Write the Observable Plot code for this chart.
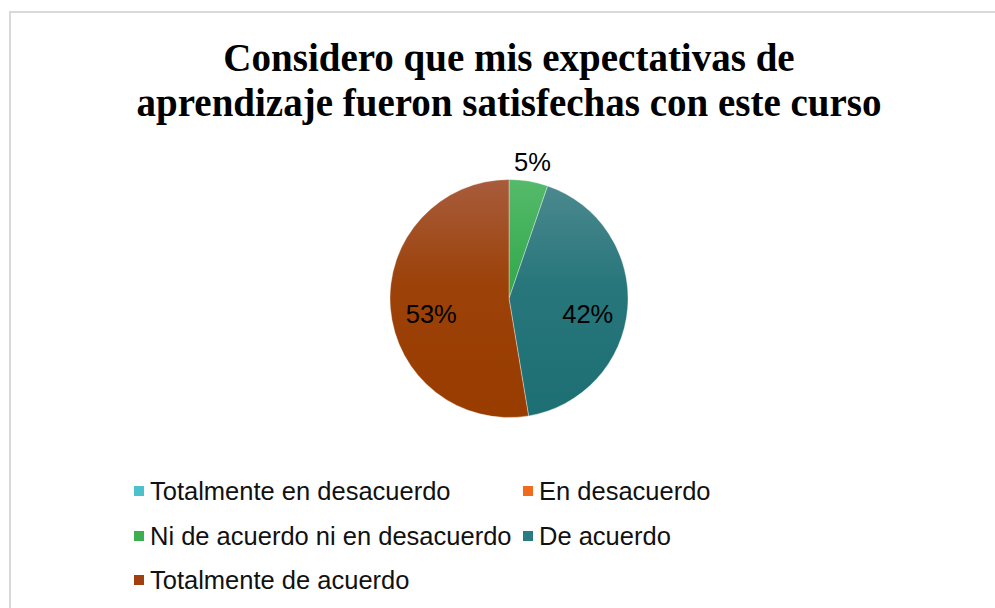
<!DOCTYPE html>
<html>
<head>
<meta charset="utf-8">
<script src="https://cdn.jsdelivr.net/npm/d3@7"></script>
<script src="https://cdn.jsdelivr.net/npm/@observablehq/plot@0.6"></script>
<style>
  html, body { margin: 0; padding: 0; background: #fff; }
  #root { position: relative; width: 995px; height: 608px; overflow: hidden; background: #fff; }
  #frame { position: absolute; left: 9px; top: 11px; width: 1000px; height: 620px;
           border-top: 2px solid #d9d9d9; border-left: 2px solid #d9d9d9; box-sizing: border-box; }
  #title { position: absolute; left: 21px; width: 976px; top: 35px; text-align: center;
           font-family: "Liberation Serif", "Times New Roman", serif; font-weight: bold;
           font-size: 39px; line-height: 45px; color: #000; word-spacing: 0px; }
  #chart { position: absolute; left: 0; top: 140px; }
  #legend { position: absolute; left: 134px; top: 469px; display: grid;
            grid-template-columns: 389px auto; grid-auto-rows: 44.5px;
            font-family: "Liberation Sans", Arial, sans-serif; font-size: 25.5px; color: #111; }
  #legend .item { display: flex; align-items: center; white-space: nowrap; line-height: 44px; }
  #legend .sw { width: 10px; height: 10px; margin-right: 6px; flex: none; position: relative; top: 0px; }
</style>
</head>
<body>
<div id="root">
  <div id="frame"></div>
  <div id="title">Considero que mis expectativas de<br>aprendizaje fueron satisfechas con este curso</div>
  <div id="chart"></div>
  <div id="legend"></div>
</div>
<script>
// ---- data ----
const categories = [
  "Totalmente en desacuerdo",
  "En desacuerdo",
  "Ni de acuerdo ni en desacuerdo",
  "De acuerdo",
  "Totalmente de acuerdo"
];
const counts = [0, 0, 1, 8, 10];
const swatchColors = ["#4BC1CC", "#F26B1D", "#3DAF50", "#2B7B80", "#A0400E"];
const gradientTop = ["#6FD0D8", "#F68A45", "#55BA6B", "#4D8A8F", "#A85C3C"];
const gradientMid = ["#3FB8C4", "#EC6416", "#33A94D", "#27767B", "#9C4108"];
const gradientBottom = ["#35B3C0", "#E85E0E", "#2CA548", "#1C6F73", "#983C00"];

const data = categories.map((category, i) => ({category, count: counts[i], i}));
const total = d3.sum(counts);
const arcs = d3.pie().sort(null).value(d => d.count)(data).filter(a => a.data.count > 0);

const labels = arcs.map(a => {
  const mid = (a.startAngle + a.endAngle) / 2;
  const share = a.data.count / total;
  const inside = share >= 0.1;
  const r = inside ? 0.66 : 1.17;
  return {x: Math.sin(mid) * r, y: -Math.cos(mid) * r, text: d3.format(".0%")(share), inside};
});

function pieMark(index, scales, values, dimensions) {
  const cx = scales.x(0), cy = scales.y(0);
  const r = scales.x(1) - cx;
  const g = d3.create("svg:g");
  const defs = g.append("defs");
  data.forEach(d => {
    const lg = defs.append("linearGradient")
      .attr("id", "grad" + d.i)
      .attr("gradientUnits", "userSpaceOnUse")
      .attr("x1", 0).attr("x2", 0)
      .attr("y1", -r).attr("y2", r);
    lg.append("stop").attr("offset", "0%").attr("stop-color", gradientTop[d.i]);
    lg.append("stop").attr("offset", "45%").attr("stop-color", gradientMid[d.i]);
    lg.append("stop").attr("offset", "100%").attr("stop-color", gradientBottom[d.i]);
  });
  const arc = d3.arc().innerRadius(0).outerRadius(r);
  g.append("g").attr("transform", `translate(${cx},${cy})`)
    .selectAll("path").data(arcs).join("path")
    .attr("d", arc)
    .attr("fill", a => `url(#grad${a.data.i})`)
    .attr("stroke", "#ffffff")
    .attr("stroke-opacity", 0.35)
    .attr("stroke-width", 1);
  return g.node();
}

const chart = Plot.plot({
  width: 995,
  height: 330,
  margin: 0,
  style: {background: "transparent", overflow: "visible"},
  x: {domain: [-1, 1], range: [390, 628], axis: null},
  y: {domain: [-1, 1], range: [40, 277], axis: null},
  marks: [
    pieMark,
    Plot.text(labels.filter(d => d.inside), {
      x: "x", y: "y", text: "text", dy: 9,
      fontSize: 25.5, fill: "#000", fontFamily: "Liberation Sans, Arial, sans-serif"
    }),
    Plot.text(labels.filter(d => !d.inside), {
      x: "x", y: "y", text: "text", dy: 1,
      fontSize: 25.5, fill: "#000", fontFamily: "Liberation Sans, Arial, sans-serif"
    })
  ]
});
document.getElementById("chart").appendChild(chart);

// legend
const legend = d3.select("#legend");
categories.forEach((c, i) => {
  const item = legend.append("div").attr("class", "item");
  item.append("span").attr("class", "sw").style("background", swatchColors[i]);
  item.append("span").text(c);
});
</script>
</body>
</html>
